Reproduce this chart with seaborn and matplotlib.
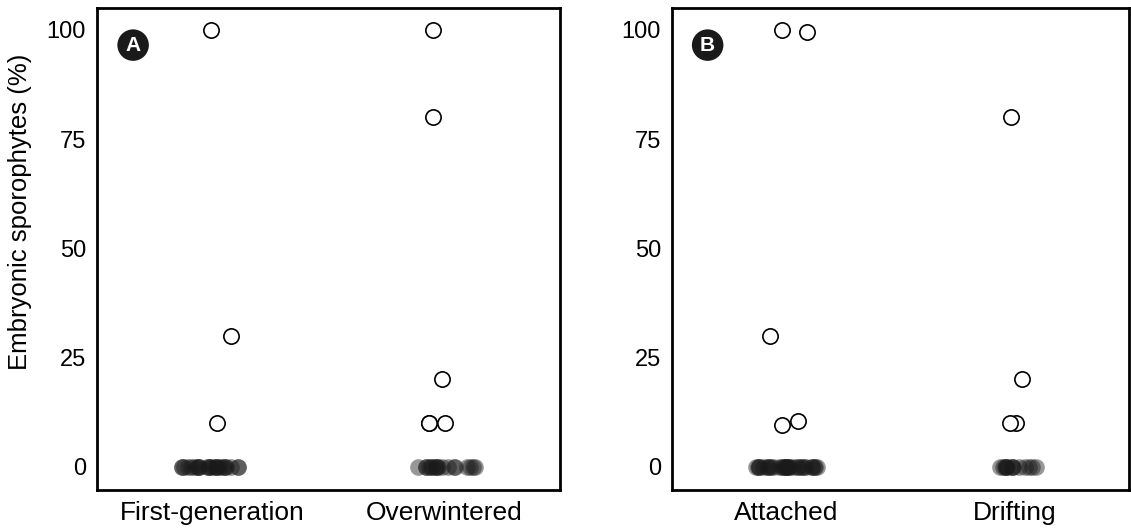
import numpy as np
import pandas as pd
import matplotlib
matplotlib.use("Agg")
import matplotlib.pyplot as plt
import seaborn as sns

sns.set_theme(style="white")
plt.rcParams["font.family"] = ["Liberation Sans", "DejaVu Sans"]
plt.rcParams["text.color"] = "black"
plt.rcParams["xtick.color"] = "black"
plt.rcParams["ytick.color"] = "black"
plt.rcParams["axes.labelcolor"] = "black"

# Panel A: generation
gen_groups = ["First-generation", "Overwintered"]
gen_first = [100, 30, 10] + [0] * 26
gen_over = [100, 80, 20, 10, 10, 10] + [0] * 18

# Panel B: habitat
hab_groups = ["Attached", "Drifting"]
hab_attached = [100, 99.5, 30, 10.5, 9.5] + [0] * 32
hab_drifting = [80, 20, 10, 10] + [0] * 14

ylabel = "Embryonic sporophytes (%)"
yticks = [0, 25, 50, 75, 100]


def make_df(groups, vals_a, vals_b):
    df = pd.DataFrame({
        "group": [groups[0]] * len(vals_a) + [groups[1]] * len(vals_b),
        "value": vals_a + vals_b,
    })
    df["group"] = pd.Categorical(df["group"], categories=groups)
    return df


def draw_panel(ax, df, groups, letter, seed):
    np.random.seed(seed)
    zeros = df[df["value"] == 0]
    nonzero = df[df["value"] > 0]
    sns.stripplot(data=zeros, x="group", y="value", order=groups, ax=ax,
                  jitter=0.14, size=12, color="#1a1a1a", alpha=0.45,
                  linewidth=0)
    sns.stripplot(data=nonzero, x="group", y="value", order=groups, ax=ax,
                  jitter=0.11, size=11, color="white", edgecolor="black",
                  linewidth=1.2)
    ax.set_xlim(-0.5, 1.5)
    ax.set_ylim(-5.3, 105)
    ax.set_yticks(yticks)
    ax.set_xlabel("")
    ax.set_ylabel("")
    ax.tick_params(axis="y", length=0, labelsize=17, pad=8)
    ax.tick_params(axis="x", length=0, labelsize=19, pad=8)
    for sp in ax.spines.values():
        sp.set_visible(True)
        sp.set_color("black")
        sp.set_linewidth(2)
    ax.text(0.078, 0.923, letter, transform=ax.transAxes, ha="center",
            va="center", color="white", fontsize=15, fontweight="bold",
            bbox=dict(boxstyle="circle,pad=0.3", fc="#1a1a1a", ec="none"))


fig = plt.figure(figsize=(11.31, 5.29), dpi=100)
ax_a = fig.add_axes([97 / 1131, 39 / 529, 463 / 1131, 482 / 529])
ax_b = fig.add_axes([672 / 1131, 39 / 529, 457 / 1131, 482 / 529])

draw_panel(ax_a, make_df(gen_groups, gen_first, gen_over), gen_groups, "A", 3)
draw_panel(ax_b, make_df(hab_groups, hab_attached, hab_drifting), hab_groups, "B", 7)
ax_a.set_ylabel(ylabel, fontsize=18.5)
ax_a.yaxis.set_label_coords(-0.14, 0.577)

fig.savefig("out.png", dpi=100)
